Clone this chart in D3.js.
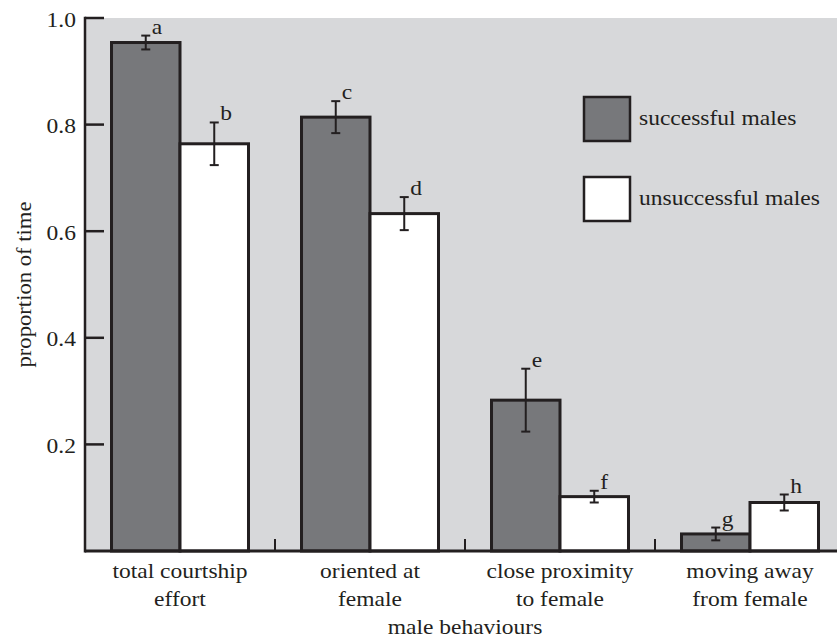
<!DOCTYPE html>
<html>
<head>
<meta charset="utf-8">
<script src="https://cdn.jsdelivr.net/npm/d3@7"></script>
<style>
  html, body { margin: 0; padding: 0; background: #ffffff; }
  svg { display: block; }
  text { font-family: "Liberation Serif", "Times New Roman", serif; fill: #231f20; }
</style>
</head>
<body>
<svg id="chart" width="837" height="638"></svg>
<script>
// ---- data ----
const categories = ["total courtship effort", "oriented at female", "close proximity to female", "moving away from female"];
const categoryLines = [["total courtship", "effort"], ["oriented at", "female"], ["close proximity", "to female"], ["moving away", "from female"]];
const seriesNames = ["successful males", "unsuccessful males"];
const successful = [0.954, 0.814, 0.283, 0.032];
const successfulErr = [0.013, 0.030, 0.059, 0.012];
const unsuccessful = [0.764, 0.633, 0.102, 0.091];
const unsuccessfulErr = [0.040, 0.031, 0.011, 0.015];
const successfulLetters = ["a", "c", "e", "g"];
const unsuccessfulLetters = ["b", "d", "f", "h"];
const yTicks = [0.2, 0.4, 0.6, 0.8, 1.0];
const yTickLabels = ["0.2", "0.4", "0.6", "0.8", "1.0"];
const xTitle = "male behaviours";
const yTitle = "proportion of time";

// ---- layout ----
const ink = "#231f20";
const bg = "#d7d8da";
const dark = "#77787b";
const light = "#ffffff";
const FS = 21, SX = 1.12;

const svg = d3.select("#chart");
const pLeft = 85, pRight = 845, pTop = 18, pBottom = 551;

const y = d3.scaleLinear().domain([0, 1]).range([pBottom, pTop]);
const x0 = d3.scaleBand().domain(categories).range([pLeft, pRight]).paddingInner(0).paddingOuter(0);
const x1 = d3.scaleBand().domain(seriesNames).range([0, x0.bandwidth()]).paddingInner(0).paddingOuter(0.387);

function label(g, txt, x, yy, anchor, fs, sx) {
  g.append("text")
    .attr("transform", `translate(${x},${yy}) scale(${sx},1)`)
    .attr("text-anchor", anchor)
    .style("font-size", fs + "px")
    .text(txt);
}

// background
svg.append("rect").attr("x", pLeft).attr("y", pTop).attr("width", pRight - pLeft).attr("height", pBottom - pTop).attr("fill", bg);

// bars
const rows = categories.map((c, i) => ({
  cat: c,
  vals: [
    { s: seriesNames[0], v: successful[i], e: successfulErr[i], l: successfulLetters[i], fill: dark },
    { s: seriesNames[1], v: unsuccessful[i], e: unsuccessfulErr[i], l: unsuccessfulLetters[i], fill: light }
  ]
}));

const groups = svg.selectAll("g.grp").data(rows).enter().append("g")
  .attr("class", "grp")
  .attr("transform", d => `translate(${x0(d.cat)},0)`);

groups.selectAll("rect.bar").data(d => d.vals).enter().append("rect")
  .attr("class", "bar")
  .attr("x", d => x1(d.s))
  .attr("y", d => y(d.v))
  .attr("width", x1.bandwidth())
  .attr("height", d => y(0) - y(d.v))
  .attr("fill", d => d.fill)
  .attr("stroke", ink)
  .attr("stroke-width", 3);

// error bars
groups.each(function (d) {
  const g = d3.select(this);
  d.vals.forEach(v => {
    const cx = x1(v.s) + x1.bandwidth() / 2;
    const y1 = y(v.v + v.e), y2 = y(v.v - v.e);
    g.append("line").attr("x1", cx).attr("x2", cx).attr("y1", y1).attr("y2", y2).attr("stroke", ink).attr("stroke-width", 2);
    g.append("line").attr("x1", cx - 4.5).attr("x2", cx + 4.5).attr("y1", y1).attr("y2", y1).attr("stroke", ink).attr("stroke-width", 2);
    g.append("line").attr("x1", cx - 4.5).attr("x2", cx + 4.5).attr("y1", y2).attr("y2", y2).attr("stroke", ink).attr("stroke-width", 2);
    label(g, v.l, cx + 6, y1 - 2, "start", FS, SX);
  });
});

// y axis
svg.append("line").attr("x1", pLeft).attr("x2", pLeft).attr("y1", pTop - 1.2).attr("y2", pBottom + 1.5).attr("stroke", ink).attr("stroke-width", 2.5);
yTicks.forEach((t, i) => {
  svg.append("line").attr("x1", pLeft).attr("x2", pLeft + 19).attr("y1", y(t)).attr("y2", y(t)).attr("stroke", ink).attr("stroke-width", 2.5);
  label(svg, yTickLabels[i], 76, y(t) + 8.5, "end", FS, SX);
});

// x axis
svg.append("line").attr("x1", pLeft).attr("x2", 837).attr("y1", pBottom).attr("y2", pBottom).attr("stroke", ink).attr("stroke-width", 3);
categories.slice(1).forEach(c => {
  svg.append("line").attr("x1", x0(c)).attr("x2", x0(c)).attr("y1", pBottom).attr("y2", pBottom - 12).attr("stroke", ink).attr("stroke-width", 2);
});
categories.forEach((c, i) => {
  const cx = x0(c) + x0.bandwidth() / 2;
  label(svg, categoryLines[i][0], cx, 578, "middle", FS, SX);
  label(svg, categoryLines[i][1], cx, 606, "middle", FS, SX);
});

// axis titles
label(svg, xTitle, (pLeft + pRight) / 2, 634, "middle", FS, SX);
svg.append("text")
  .attr("transform", `translate(30.5,${(pTop + pBottom) / 2}) rotate(-90) scale(1.03,1)`)
  .attr("text-anchor", "middle")
  .style("font-size", "22px")
  .text(yTitle);

// legend
const legend = svg.append("g");
seriesNames.forEach((s, i) => {
  const yy = 97 + i * 80;
  legend.append("rect").attr("x", 584).attr("y", yy).attr("width", 46).attr("height", 44)
    .attr("fill", i === 0 ? dark : light).attr("stroke", ink).attr("stroke-width", 2.5);
  label(legend, s, 639, yy + 28, "start", FS, SX);
});
</script>
</body>
</html>
